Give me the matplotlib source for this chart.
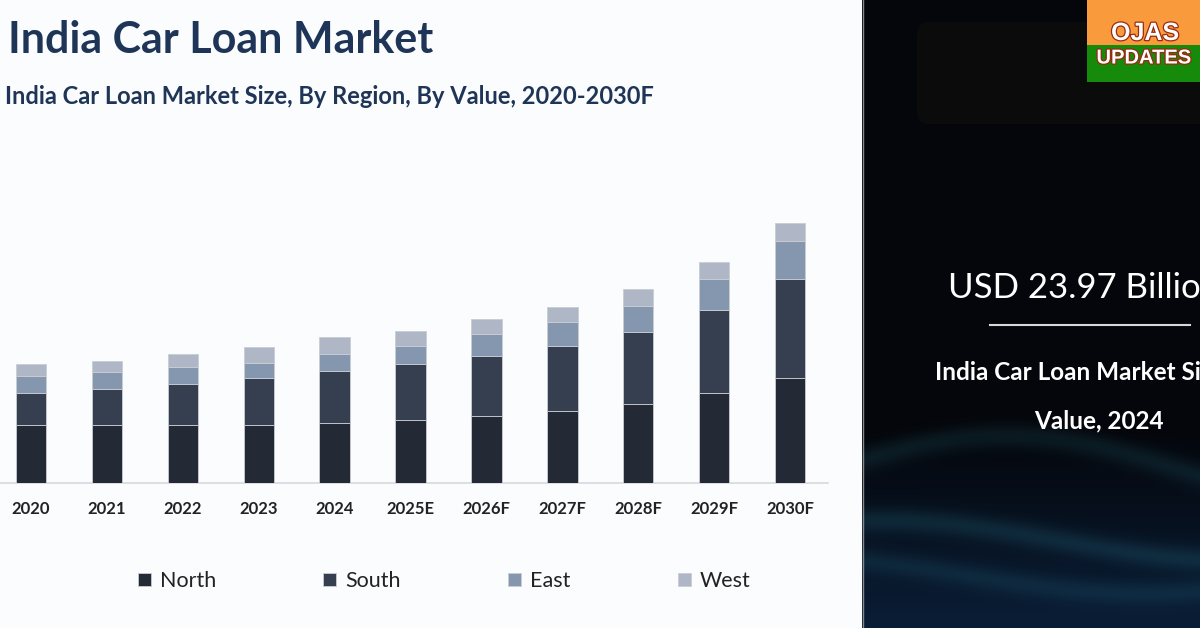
import numpy as np
import matplotlib
matplotlib.use("Agg")
import matplotlib.pyplot as plt
from matplotlib.patches import Rectangle, FancyBboxPatch
import matplotlib.patheffects as pe

# data (USD billion)
years = ["2020", "2021", "2022", "2023", "2024", "2025E", "2026F", "2027F", "2028F", "2029F", "2030F"]
north = [9.52, 9.52, 9.52, 9.52, 9.85, 10.34, 11.00, 11.82, 12.97, 14.78, 17.24]
south = [5.25, 5.91, 6.73, 7.72, 8.54, 9.20, 9.85, 10.67, 11.82, 13.63, 16.26]
east = [2.79, 2.79, 2.79, 2.46, 2.79, 2.96, 3.61, 3.94, 4.27, 5.09, 6.24]
west = [1.97, 1.81, 2.13, 2.63, 2.79, 2.46, 2.46, 2.46, 2.79, 2.79, 2.96]
regions = ["North", "South", "East", "West"]
colors = ["#232a35", "#363f50", "#8497ae", "#afb7c7"]

W, H = 1200, 628
fig = plt.figure(figsize=(W / 100, H / 100), dpi=100)
fig.patch.set_facecolor("#fbfcfd")

# stacked bars
ax = fig.add_axes([-7 / W, 145 / H, 835 / W, 274 / H])
ax.set_facecolor("none")
x = np.arange(len(years))
bottom = np.zeros(len(years))
handles = []
for name, vals, c in zip(regions, [north, south, east, west], colors):
    b = ax.bar(x, vals, width=0.4, bottom=bottom, color=c, edgecolor="#c9cdd3",
               linewidth=0.6, label=name, zorder=3)
    handles.append(b)
    bottom += np.array(vals)
ax.set_xlim(-0.5, len(years) - 0.5)
ax.set_ylim(0, 45)
ax.set_xticks(x)
ax.set_xticklabels(years, fontfamily="Lato", fontweight="bold", fontsize=12, color="#222222")
ax.tick_params(axis="x", length=0, pad=13)
ax.set_yticks([])
for s in ["top", "right", "left"]:
    ax.spines[s].set_visible(False)
ax.spines["bottom"].set_color("#d6d9dd")
ax.spines["bottom"].set_linewidth(1.2)

fig.text(8 / W, 1 - 40 / H, "India Car Loan Market", fontfamily="Lato", fontweight="bold",
         fontsize=31, color="#1f3557", va="center", ha="left")
fig.text(5 / W, 1 - 97 / H, "India Car Loan Market Size, By Region, By Value, 2020-2030F",
         fontfamily="Lato", fontweight="bold", fontsize=17, color="#1f3557", va="center", ha="left")

fig.legend(handles=handles, labels=regions, loc="center", bbox_to_anchor=(444 / W, 1 - 581 / H),
           ncol=4, frameon=False, handlelength=0.6, handleheight=0.6, handletextpad=0.4,
           columnspacing=5.0, prop={"family": "Lato", "size": 15.5})
for t in fig.legends[0].get_texts():
    t.set_color("#222222")

# dark side panel
pax = fig.add_axes([862 / W, 0, (W - 862) / W, 1])
pw, ph = W - 862, H
yy, xx = np.mgrid[0:ph, 0:pw]
img = np.zeros((ph, pw, 3))
img[:] = np.array([4, 6, 11]) / 255
t = np.clip((yy - 430) / 200, 0, 1)[..., None]
img = img * (1 - t) + (np.array([10, 30, 55]) / 255) * t
for y0, amp, ph0, strength in [(470, 35, 0.3, 0.10), (540, 20, 1.4, 0.12), (575, 18, 2.2, 0.09)]:
    curve = y0 - amp * np.sin(xx / pw * 3.0 + ph0)
    band = np.exp(-((yy - curve) / 12) ** 2)[..., None]
    img = img + band * strength * np.array([0.25, 0.75, 0.8])
img = np.clip(img, 0, 1)
pax.imshow(img, extent=[0, pw, ph, 0], aspect="auto")
pax.set_xlim(0, pw)
pax.set_ylim(ph, 0)
pax.axis("off")
pax.axvline(0.5, color="#888888", lw=1)
pax.add_patch(FancyBboxPatch((55, 22), 300, 102, boxstyle="round,pad=0,rounding_size=12",
                             facecolor="#0b0b0c", edgecolor="none"))
pax.text(948 - 862, 288, "USD 23.97 Billion", color="white", fontfamily="Lato", fontsize=25,
         va="center", ha="left")
pax.plot([990 - 862, 1190 - 862], [325, 325], color="#d8d8d8", lw=1.5)
pax.text(935 - 862, 373, "India Car Loan Market Size, By", color="white", fontfamily="Lato",
         fontweight="bold", fontsize=17.5, va="center", ha="left")
pax.text(1099 - 862, 421, "Value, 2024", color="white", fontfamily="Lato",
         fontweight="bold", fontsize=17.5, va="center", ha="center")

# badge
pax.add_patch(Rectangle((1087 - 862, 0), 113, 45, facecolor="#f99a3c", edgecolor="none"))
pax.add_patch(Rectangle((1087 - 862, 45), 113, 37, facecolor="#168a0a", edgecolor="none"))
stroke = [pe.withStroke(linewidth=1.8, foreground="#9a2a10")]
pax.text(1145 - 862, 33, "OJAS", color="white", fontfamily="Liberation Sans", fontweight="bold",
         fontsize=18, va="center", ha="center", path_effects=stroke)
pax.text(1144 - 862, 58, "UPDATES", color="white", fontfamily="Liberation Sans", fontweight="bold",
         fontsize=14.5, va="center", ha="center", path_effects=stroke)

fig.savefig("out.png", dpi=100, facecolor=fig.get_facecolor())
